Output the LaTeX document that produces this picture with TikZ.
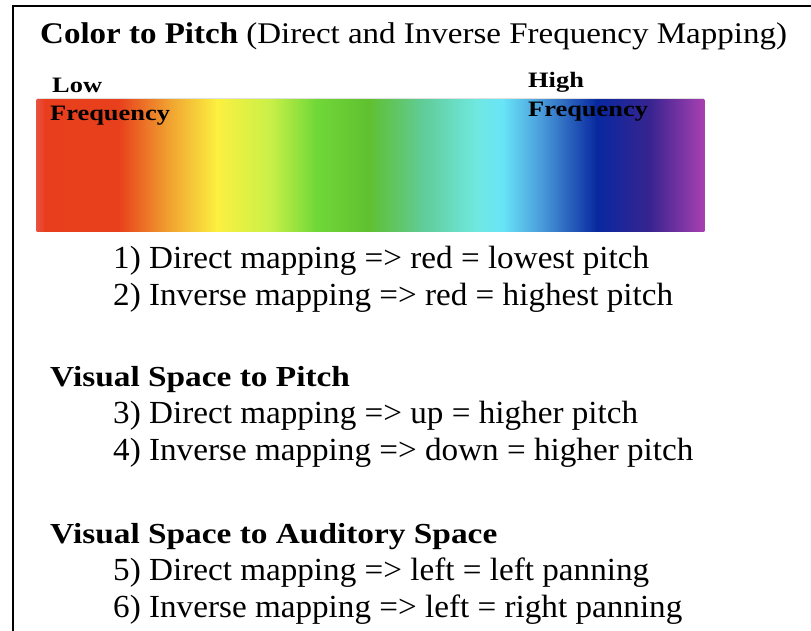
\documentclass[tikz,border=0pt]{standalone}
\usepackage{fontspec}
\setmainfont{Liberation Serif}
\newfontfamily\bodyfont[FakeStretch=1.03]{Liberation Serif}
\newfontfamily\titlefont[FakeStretch=1.1]{Liberation Serif}
\newfontfamily\headfont[FakeStretch=1.15]{Liberation Serif}
\newfontfamily\tagfont[FakeStretch=1.2]{Liberation Serif}
\begin{document}
\begin{tikzpicture}[x=1pt,y=-1pt,
  body/.style={anchor=base west,inner sep=0pt,font=\bodyfont\fontsize{32.2}{37}\selectfont},
  head/.style={anchor=base west,inner sep=0pt,font=\headfont\fontsize{29}{35}\selectfont\bfseries},
  title/.style={anchor=base west,inner sep=0pt,font=\titlefont\fontsize{30}{36}\selectfont},
  tag/.style={anchor=base west,inner sep=0pt,font=\tagfont\fontsize{22}{26}\selectfont\bfseries}]
\useasboundingbox (0,0) rectangle (811,630);
\fill[white] (0,0) rectangle (811,630);
% outer frame, running off the right and bottom edges
\draw[line width=2.2pt] (13,640) -- (13,6) -- (830,6);

% spectrum bar
\definecolor{s0}{HTML}{E85040}
\definecolor{s1}{HTML}{E83E1E}
\definecolor{s2}{HTML}{E8401C}
\definecolor{s3}{HTML}{F0A030}
\definecolor{s4}{HTML}{FCF040}
\definecolor{s5}{HTML}{C8F048}
\definecolor{s6}{HTML}{70D838}
\definecolor{s7}{HTML}{60C030}
\definecolor{s8}{HTML}{60CC98}
\definecolor{s9}{HTML}{70E8E0}
\definecolor{s10}{HTML}{68E4F8}
\definecolor{s11}{HTML}{4898D8}
\definecolor{s12}{HTML}{0828A0}
\definecolor{s13}{HTML}{382490}
\definecolor{s14}{HTML}{A840B0}
\foreach \xa/\xb/\ca/\cb in {37/45/s0/s1,45/119/s1/s2,119/168/s2/s3,168/217/s3/s4,
  217/271/s4/s5,271/316/s5/s6,316/369/s6/s7,369/423/s7/s8,423/476/s8/s9,
  476/503/s9/s10,503/543/s10/s11,543/597/s11/s12,597/650/s12/s13,650/704/s13/s14}
  \shade[left color=\ca,right color=\cb] (\xa-0.3,99) rectangle (\xb+0.3,231);
\draw[black!12,line width=0.8pt] (37,98.6) -- (704,98.6);

\node[title] (t1) at (40,43) {\textbf{Color to Pitch} (Direct and Inverse Frequency Mapping)};
\node[tag] (low) at (52,92) {Low};
\node[tag] (lowf) at (50,120) {Frequency};
\node[tag] (high) at (528,87) {High};
\node[tag] (highf) at (528,116) {Frequency};

\node[body] (l1) at (113,268) {1) Direct mapping => red = lowest pitch};
\node[body] (l2) at (113,305) {2) Inverse mapping => red = highest pitch};

\node[head] (h2) at (50,386) {Visual Space to Pitch};
\node[body] (l3) at (113,423) {3) Direct mapping => up = higher pitch};
\node[body] (l4) at (113,460) {4) Inverse mapping => down = higher pitch};

\node[head] (h3) at (50,543) {Visual Space to Auditory Space};
\node[body] (l5) at (113,580) {5) Direct mapping => left = left panning};
\node[body] (l6) at (113,617) {6) Inverse mapping => left = right panning};
\end{tikzpicture}
\end{document}
